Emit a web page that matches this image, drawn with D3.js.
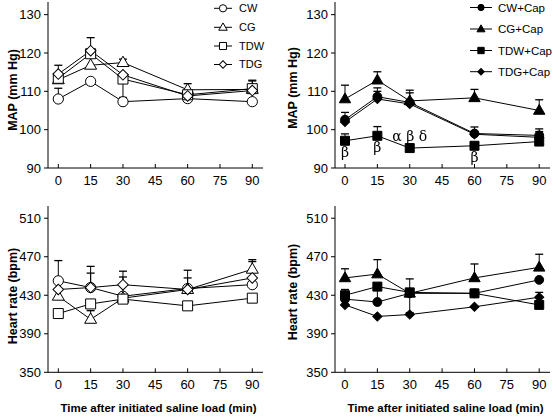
<!DOCTYPE html>
<html><head><meta charset="utf-8">
<script src="https://cdn.jsdelivr.net/npm/d3@7"></script>
<style>
body{margin:0;background:#fff;}
text{font-family:"Liberation Sans",Arial,Helvetica,sans-serif;fill:#000;}
</style></head>
<body><svg id="c" width="553" height="418"></svg>
<script>
// ---- data ----
const times = [0, 15, 30, 60, 90];
const xTicks = [0, 15, 30, 45, 60, 75, 90];
const mapTicks = [90, 100, 110, 120, 130];
const hrTicks = [350, 390, 430, 470, 510];

// MAP, control groups (open symbols)
const mapCW  = [108.0, 112.6, 107.3, 108.1, 107.3];
const mapCG  = [113.0, 116.8, 117.5, 110.4, 110.5];
const mapTDW = [113.4, 119.8, 113.2, 109.1, 110.7];
const mapTDG = [114.5, 120.6, 114.3, 108.8, 110.2];
const mapCWerr  = [2.8, null, null, null, null];
const mapCGerr  = [null, null, 0.9, null, null];
const mapTDWerr = [null, null, -4.8, null, 2.2];
const mapTDGerr = [2.3, 3.4, null, 3.2, 2.5];

// MAP, capsaicin groups (filled symbols)
const mapCWc  = [102.6, 108.6, 107.1, 99.0, 98.5];
const mapCGc  = [108.0, 112.9, 107.5, 108.3, 105.0];
const mapTDWc = [97.1, 98.4, 95.2, 95.8, 96.9];
const mapTDGc = [102.0, 108.0, 106.7, 98.8, 98.0];
const mapCWcErr  = [1.9, 2.3, 3.2, 1.7, 1.7];
const mapCGcErr  = [3.6, 2.2, null, 2.2, 2.8];
const mapTDWcErr = [1.8, 2.4, null, null, null];
const mapTDGcErr = [null, 2.0, 2.9, null, 1.5];

// Heart rate, control groups
const hrCW  = [445, 438, 429, 437, 441];
const hrCG  = [429, 405, 427, 436, 457];
const hrTDW = [411, 421, 426, 419, 427];
const hrTDG = [436, 438, 441, 436, 448];
const hrCWerr  = [21, 22, 26, 19, null];
const hrCGerr  = [null, 9, null, null, 10];
const hrTDWerr = [null, null, null, null, null];
const hrTDGerr = [null, 15, 8, 12, 17];

// Heart rate, capsaicin groups
const hrCWc  = [426, 423, 432, 432, 446];
const hrCGc  = [448, 452, 432, 448, 459];
const hrTDWc = [430, 439, 433, 432, 420];
const hrTDGc = [420, 408, 410, 418, 428];
const hrCWcErr  = [null, 16, -20, null, null];
const hrCGcErr  = [9.5, 15, null, 14.5, 13.6];
const hrTDWcErr = [6, null, 14, null, null];
const hrTDGcErr = [null, null, null, null, 5];

const labelsOpen = ["CW", "CG", "TDW", "TDG"];
const labelsCap  = ["CW+Cap", "CG+Cap", "TDW+Cap", "TDG+Cap"];

// significance annotations on TDW+Cap (MAP)
const annot = [
  {t: 0,  v: 97.1, s: "β", pos: "below"},
  {t: 15, v: 98.4, s: "β", pos: "below"},
  {t: 30, v: 95.2, s: "α β δ", pos: "above"},
  {t: 60, v: 95.8, s: "β", pos: "below"}
];

// ---- drawing ----
const svg = d3.select("#c");
const defs = svg.append("defs");
const gf = defs.append("filter").attr("id", "gray").attr("x", "-20%").attr("y", "-20%").attr("width", "140%").attr("height", "140%");
gf.append("feColorMatrix").attr("type", "saturate").attr("values", 0);
const shapes = ["circle", "triangle", "square", "diamond"];

function sym(g, shape, filled, x, y, scale){
  const open = {circle:82, triangle:62, square:100, diamond:56};
  const fill = {circle:62, triangle:56, square:81, diamond:42};
  const size = (filled ? fill[shape] : open[shape]) * (scale || 1);
  let type = d3.symbolCircle, rot = 0, dy = 0;
  if (shape === "triangle") { type = d3.symbolTriangle; dy = 0.5; }
  if (shape === "square") type = d3.symbolSquare;
  if (shape === "diamond") { type = d3.symbolSquare; rot = 45; }
  g.append("path")
    .attr("d", d3.symbol().type(type).size(size)())
    .attr("transform", `translate(${x},${y + dy}) rotate(${rot})`)
    .attr("fill", filled ? "#000" : "#fff")
    .attr("stroke", "#000").attr("stroke-width", 1);
}

function panel(o){
  const g = svg.append("g");
  const x = d3.scaleLinear().domain(o.xd).range(o.xr);
  const y = d3.scaleLinear().domain(o.yd).range(o.yr);
  // axes
  g.append("line").attr("x1", o.xr[0]).attr("x2", o.xr[0]).attr("y1", o.yr[0]).attr("y2", o.yr[1]).attr("stroke", "#000");
  g.append("line").attr("x1", o.xr[0]).attr("x2", o.xr[1]).attr("y1", o.yr[0]).attr("y2", o.yr[0]).attr("stroke", "#000");
  o.yt.forEach(v => {
    g.append("line").attr("x1", o.xr[0] - 4).attr("x2", o.xr[0]).attr("y1", y(v)).attr("y2", y(v)).attr("stroke", "#000");
    g.append("text").attr("x", o.xr[0] - 7).attr("y", y(v)).attr("dy", "0.36em")
      .attr("text-anchor", "end").attr("font-size", 13).text(v);
  });
  xTicks.forEach(v => {
    g.append("line").attr("x1", x(v)).attr("x2", x(v)).attr("y1", o.yr[0]).attr("y2", o.yr[0] - 4).attr("stroke", "#000");
    g.append("text").attr("x", x(v)).attr("y", o.yr[0] + 12).attr("dy", "0.36em")
      .attr("text-anchor", "middle").attr("font-size", 13).text(v);
  });
  g.append("text").attr("transform", `translate(${o.ylx},${o.yly}) rotate(-90)`)
    .attr("text-anchor", "middle").attr("font-size", 12.5).attr("font-weight", "bold").text(o.ylabel);
  if (o.xlabel) {
    g.append("text").attr("x", (o.xr[0] + o.xr[1]) / 2 + 3).attr("y", o.yr[0] + 40)
      .attr("text-anchor", "middle").attr("font-size", 11.5).attr("font-weight", "bold").text(o.xlabel);
  }
  const line = d3.line().x((d, i) => x(times[i])).y(d => y(d));
  o.series.forEach(s => {
    g.append("path").attr("d", line(s.v)).attr("fill", "none").attr("stroke", "#000").attr("stroke-width", 1);
  });
  o.series.forEach(s => {
    s.e.forEach((e, i) => {
      if (e == null) return;
      const x0 = x(times[i]), y0 = y(s.v[i]), y1 = y(s.v[i] + e);
      g.append("line").attr("x1", x0).attr("x2", x0).attr("y1", y0).attr("y2", y1).attr("stroke", "#000");
      g.append("line").attr("x1", x0 - 4).attr("x2", x0 + 4).attr("y1", y1).attr("y2", y1).attr("stroke", "#000").attr("stroke-width", 1.3);
    });
  });
  o.series.forEach((s, k) => {
    s.v.forEach((v, i) => sym(g, shapes[k], o.filled, x(times[i]), y(v)));
  });
  if (o.legend) {
    const L = o.legend;
    L.labels.forEach((lab, k) => {
      const yy = L.ys[k];
      g.append("line").attr("x1", L.x0).attr("x2", L.x1).attr("y1", yy).attr("y2", yy).attr("stroke", "#000");
      sym(g, shapes[k], o.filled, (L.x0 + L.x1) / 2, yy, 0.5);
      g.append("text").attr("x", L.tx).attr("y", yy).attr("dy", "0.36em").attr("font-size", L.fs).text(lab);
    });
  }
  if (o.annot) {
    const ga = g.append("g").attr("filter", "url(#gray)");
    o.annot.forEach(a => {
      ga.append("text").attr("x", x(a.t)).attr("y", a.pos === "below" ? y(a.v) + 16 : y(a.v) - 7)
        .attr("text-anchor", "middle").attr("font-size", 14).attr("fill", "#000")
        .style("fill", "#000")
        .style("font-family", "'DejaVu Serif','Liberation Serif',serif").text(a.s);
    });
  }
}

const mk = (vals, errs) => vals.map((v, i) => ({v, e: errs[i]}));

panel({xd: [-4.78, 94.96], xr: [48, 263], yd: [90, 133.3], yr: [168, 2], yt: mapTicks,
  ylabel: "MAP (mm Hg)", ylx: 17, yly: 90, filled: false,
  series: mk([mapCW, mapCG, mapTDW, mapTDG], [mapCWerr, mapCGerr, mapTDWerr, mapTDGerr]),
  legend: {labels: labelsOpen, ys: [8.3, 27.3, 46, 64.5], x0: 214, x1: 232, tx: 239, fs: 11}});

panel({xd: [-4.63, 95], xr: [335, 550], yd: [90, 133.3], yr: [168, 2], yt: mapTicks,
  ylabel: "MAP (mm Hg)", ylx: 297, yly: 88, filled: true,
  series: mk([mapCWc, mapCGc, mapTDWc, mapTDGc], [mapCWcErr, mapCGcErr, mapTDWcErr, mapTDGcErr]),
  legend: {labels: labelsCap, ys: [7.5, 29, 50.5, 71.7], x0: 470, x1: 492, tx: 498, fs: 11.5},
  annot: annot});

panel({xd: [-4.78, 94.96], xr: [48, 263], yd: [350, 522.7], yr: [372.3, 206], yt: hrTicks,
  ylabel: "Heart rate (bpm)", ylx: 17, yly: 296, filled: false,
  series: mk([hrCW, hrCG, hrTDW, hrTDG], [hrCWerr, hrCGerr, hrTDWerr, hrTDGerr]),
  xlabel: "Time after initiated saline load (min)"});

panel({xd: [-4.63, 95], xr: [335, 550], yd: [350, 522.7], yr: [372.3, 206], yt: hrTicks,
  ylabel: "Heart rate (bpm)", ylx: 297, yly: 292, filled: true,
  series: mk([hrCWc, hrCGc, hrTDWc, hrTDGc], [hrCWcErr, hrCGcErr, hrTDWcErr, hrTDGcErr]),
  xlabel: "Time after initiated saline load (min)"});
</script></body></html>
